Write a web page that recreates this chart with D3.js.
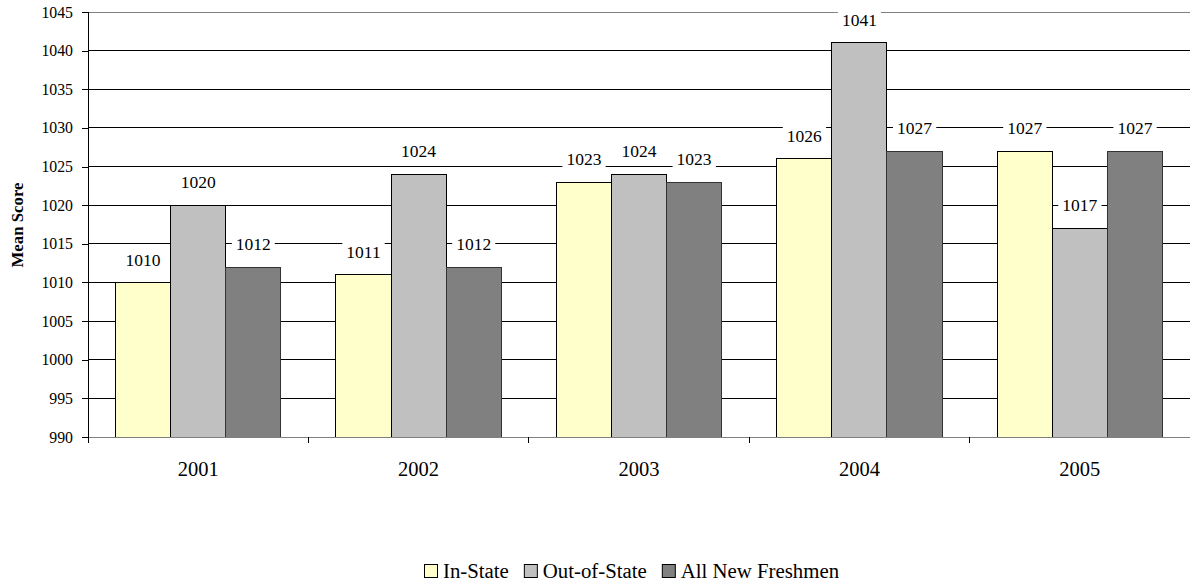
<!DOCTYPE html>
<html><head><meta charset="utf-8">
<script src="https://cdn.jsdelivr.net/npm/d3@7"></script>
</head><body style="margin:0;background:#fff">
<script>
const years = ["2001","2002","2003","2004","2005"];
const seriesNames = ["In-State","Out-of-State","All New Freshmen"];
const inState = [1010,1011,1023,1026,1027];
const outState = [1020,1024,1024,1041,1017];
const allNew = [1012,1012,1023,1027,1027];
const yTicks = [990,995,1000,1005,1010,1015,1020,1025,1030,1035,1040,1045];
const colors = ["#FFFFCC","#C0C0C0","#808080"];
const strokes = ["#000","#000","#333"];
const seriesVals = [inState,outState,allNew];
const FF = "Liberation Serif";

const W=1196,H=584;
const m={left:88,right:1190,top:12,bottom:437};
const svg=d3.select("body").append("svg").attr("width",W).attr("height",H).style("display","block");
const x=d3.scaleBand().domain(years).range([m.left,m.right]).paddingInner(0).paddingOuter(0);
const x1=d3.scaleBand().domain(seriesNames).range([x.bandwidth()*0.125,x.bandwidth()*0.875]).paddingInner(0).paddingOuter(0);
const y=d3.scaleLinear().domain([990,1045]).range([m.bottom,m.top]);

// gridlines
svg.append("g").selectAll("line").data(yTicks.filter(t=>t>990&&t<1045)).join("line")
 .attr("x1",m.left).attr("x2",m.right).attr("y1",d=>y(d)).attr("y2",d=>y(d))
 .attr("stroke","#000").attr("stroke-width",1).attr("shape-rendering","crispEdges");
svg.append("line").attr("x1",m.left).attr("x2",m.right).attr("y1",y(1045)).attr("y2",y(1045))
 .attr("stroke","#808080").attr("stroke-width",1).attr("shape-rendering","crispEdges");

// bars
const data=[];
years.forEach((yr,i)=>seriesNames.forEach((s,j)=>data.push({yr,s,j,v:seriesVals[j][i]})));
svg.append("g").selectAll("rect").data(data).join("rect")
 .attr("x",d=>x(d.yr)+x1(d.s)).attr("width",x1.bandwidth())
 .attr("y",d=>y(d.v)).attr("height",d=>y(990)-y(d.v))
 .attr("fill",d=>colors[d.j]).attr("stroke",d=>strokes[d.j]).attr("stroke-width",1)
 .attr("shape-rendering","crispEdges");

// bottom axis
svg.append("line").attr("x1",m.left).attr("x2",m.right).attr("y1",y(990)).attr("y2",y(990))
 .attr("stroke","#808080").attr("stroke-width",1).attr("shape-rendering","crispEdges");
const xa=svg.append("g").attr("transform",`translate(0,${m.bottom})`)
 .call(d3.axisBottom(x).tickSize(0).tickPadding(24));
xa.select(".domain").remove();
xa.selectAll("text").attr("fill","#000").style("font-size","20.5px");
svg.append("g").selectAll("line").data(years.slice(1)).join("line")
 .attr("x1",d=>x(d)).attr("x2",d=>x(d)).attr("y1",m.bottom).attr("y2",m.bottom+6)
 .attr("stroke","#000").attr("shape-rendering","crispEdges");

// left axis
const ya=svg.append("g").attr("transform",`translate(${m.left},0)`)
 .call(d3.axisLeft(y).tickValues(yTicks).tickFormat(d3.format("d")).tickSize(6).tickPadding(9));
ya.select(".domain").attr("stroke","#000").attr("shape-rendering","crispEdges").attr("d",`M0,${m.top}V${m.bottom+6}`);
ya.selectAll(".tick line").attr("stroke","#000").attr("shape-rendering","crispEdges");
ya.selectAll("text").attr("fill","#000").style("font-size","15.8px");

// value labels with white background
const lg=svg.append("g");
data.forEach(d=>{
  const cx=x(d.yr)+x1(d.s)+x1.bandwidth()/2;
  const cy=y(d.v)-23;
  const t=lg.append("text").attr("x",cx).attr("y",cy).attr("text-anchor","middle").attr("dy","0.35em")
   .attr("fill","#000").style("font-family",FF).style("font-size","17.5px").text(d.v);
  const bb=t.node().getBBox();
  lg.insert("rect","text").attr("x",bb.x-4).attr("y",bb.y-1).attr("width",bb.width+8).attr("height",bb.height+2).attr("fill","#fff");
});
lg.selectAll("text").raise();

// y title
svg.append("text").attr("transform",`translate(23,225) rotate(-90)`)
 .attr("text-anchor","middle").style("font-size","16.8px").attr("font-weight","bold").text("Mean Score");

// legend
const leg=svg.append("g").attr("transform","translate(424,578)");
let lx=0;
seriesNames.forEach((s,j)=>{
  const g=leg.append("g").attr("transform",`translate(${lx},0)`);
  g.append("rect").attr("x",0.5).attr("y",-13.5).attr("width",13).attr("height",13).attr("fill",colors[j]).attr("stroke","#000");
  const t=g.append("text").attr("x",19).attr("y",0).style("font-family",FF).style("font-size","20.8px").text(s);
  lx+=19+t.node().getComputedTextLength()+15;
});

svg.selectAll("text").style("font-family",FF);
</script>
</body></html>
